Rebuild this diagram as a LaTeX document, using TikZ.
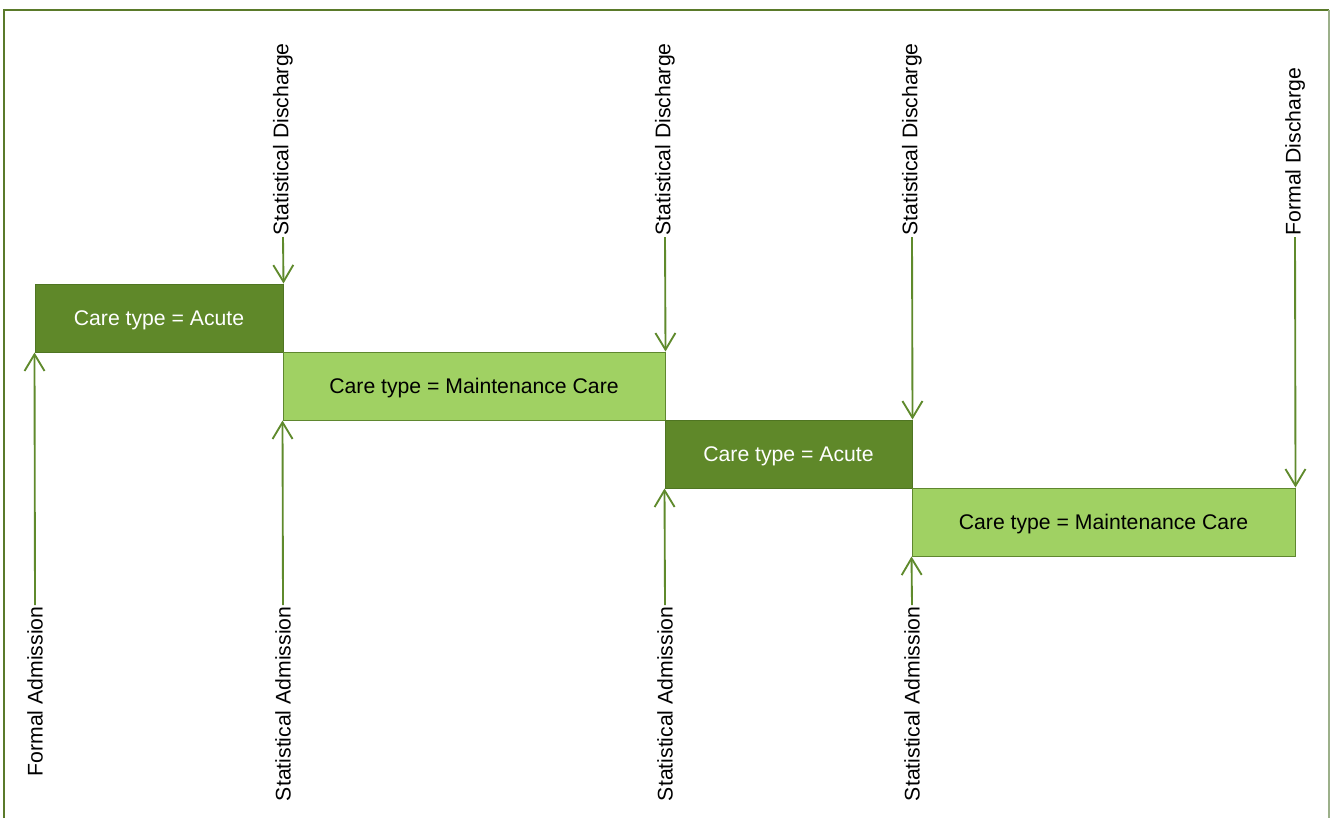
\documentclass[tikz,border=0pt]{standalone}
\usepackage{fontspec}
\setmainfont{Liberation Sans}
\usetikzlibrary{arrows.meta}
\definecolor{darkg}{HTML}{5F8829}
\definecolor{lightg}{HTML}{A0D163}
\definecolor{arrg}{HTML}{5F8A2C}
\definecolor{edgeg}{HTML}{4F7522}
\definecolor{frameL}{HTML}{5A7A2A}
\definecolor{frameR}{HTML}{9CB08A}
\tikzset{
  every node/.style={font=\fontsize{15.9}{19}\selectfont},
  darkbox/.style={draw=edgeg, line width=0.75pt, fill=darkg, text=white, minimum height=51pt, inner sep=0pt, text height=11.4pt, text depth=0.5pt},
  lightbox/.style={draw=edgeg!80!lightg, line width=0.75pt, fill=lightg, text=black, minimum height=51pt, inner sep=0pt, text height=11.4pt, text depth=0.5pt},
  toplabel/.style={rotate=90, anchor=west, inner sep=1pt},
  botlabel/.style={rotate=90, anchor=east, inner sep=1pt},
  arr/.style={draw=arrg, line width=1.4pt, -{Straight Barb[length=12.5pt, width=15pt, line width=1.4pt]}}
}
\begin{document}
\begin{tikzpicture}[x=0.75pt, y=-0.75pt]
\useasboundingbox (0,0) rectangle (1334,818);
% frame
\draw[frameL, line width=0.9pt] (4,818) -- (4,10) -- (1329,10);
\draw[frameR, line width=0.9pt] (1329,10) -- (1329,818);
% boxes
\node[darkbox, minimum width=186pt] (b1) at (159,318) {Care type = Acute};
\node[lightbox, minimum width=286.5pt] (b2) at (474,386) {Care type = Maintenance Care};
\node[darkbox, minimum width=185.25pt] (b3) at (788.5,454) {Care type = Acute};
\node[lightbox, minimum width=287.25pt] (b4) at (1103.5,522) {Care type = Maintenance Care};
% top labels
\node[toplabel] (sd1) at (283,237) {Statistical Discharge};
\node[toplabel] (sd2) at (665,237) {Statistical Discharge};
\node[toplabel] (sd3) at (912,237) {Statistical Discharge};
\node[toplabel] (fd) at (1295,237) {Formal Discharge};
% bottom labels
\node[botlabel] (fa) at (35,605) {Formal Admission};
\node[botlabel] (sa1) at (283,605) {Statistical Admission};
\node[botlabel] (sa2) at (665,605) {Statistical Admission};
\node[botlabel] (sa3) at (912,605) {Statistical Admission};
% connectors
\draw[arr] (sd1.west) -- (b1.north east);
\draw[arr] (sd2.west) -- (b2.north east);
\draw[arr] (sd3.west) -- (b3.north east);
\draw[arr] (fd.west) -- (b4.north east);
\draw[arr] (fa.east) -- (b1.south west);
\draw[arr] (sa1.east) -- (b2.south west);
\draw[arr] (sa2.east) -- (b3.south west);
\draw[arr] (sa3.east) -- (b4.south west);
\end{tikzpicture}
\end{document}
